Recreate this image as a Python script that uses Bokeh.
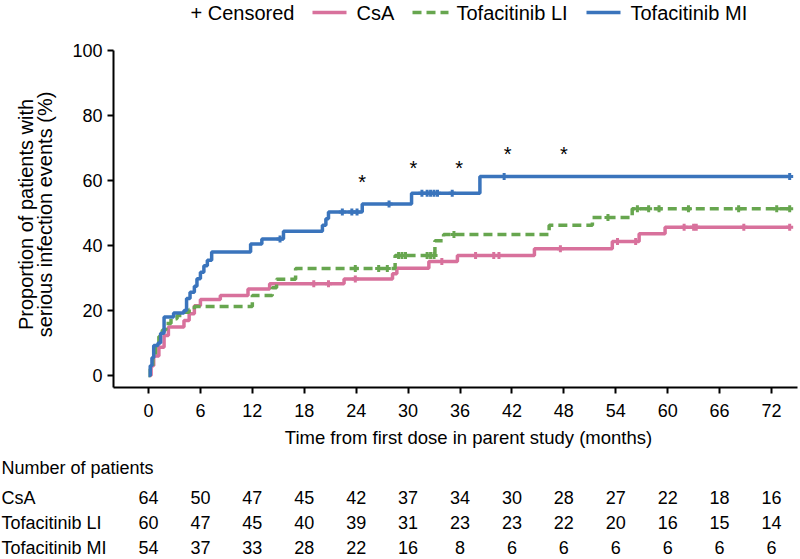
import numpy as np
from bokeh.plotting import figure
from bokeh.models import Range1d, FixedTicker, LinearAxis
from bokeh.embed import file_html
from bokeh.resources import INLINE
from bokeh.core.properties import value

# ---------------- data ----------------
month_ticks = [0, 6, 12, 18, 24, 30, 36, 42, 48, 54, 60, 66, 72]
pct_ticks = [0, 20, 40, 60, 80, 100]
end_time = 74.1

# CsA (cumulative % with serious infection events, step after each time)
csa_t = [0.2, 0.3, 0.6, 1.2, 1.8, 2.3, 4.1, 4.7, 5.3, 6.0, 8.3, 11.5, 14.0,
         22.6, 28.2, 28.7, 32.4, 35.7, 44.6, 53.6, 56.7, 59.7]
csa_p = [0.0, 3.0, 6.0, 8.7, 12.3, 14.9, 16.9, 19.0, 21.5, 23.4, 24.6, 26.6,
         28.2, 29.7, 31.3, 33.0, 35.1, 36.9, 39.0, 41.2, 43.6, 45.6]
csa_cens = [19.1, 20.8, 23.9, 33.9, 37.8, 39.9, 40.5, 47.6, 54.2, 56.3,
            61.9, 63.0, 63.3, 68.8, 74.1]

# Tofacitinib LI
li_t = [0.0, 0.2, 0.5, 0.8, 1.2, 1.6, 2.0, 2.6, 3.3, 4.2, 4.7, 5.3, 12.0,
        14.3, 14.8, 17.0, 28.5, 33.1, 34.1, 46.3, 51.3, 55.9]
li_p = [0.0, 2.0, 6.0, 9.0, 12.0, 14.0, 16.0, 17.5, 18.5, 19.5, 20.3, 21.2,
        24.6, 27.0, 29.6, 32.9, 36.9, 41.5, 43.4, 46.2, 48.6, 51.3]
li_cens = [23.9, 26.6, 27.6, 28.9, 29.3, 29.7, 32.2, 32.6, 33.0, 35.3, 53.1,
           56.5, 57.8, 59.0, 62.4, 68.2, 72.6, 74.1]

# Tofacitinib MI
mi_t = [0.0, 0.2, 0.4, 0.6, 1.1, 1.4, 1.8, 2.9, 4.1, 4.4, 4.8, 5.3, 5.6, 6.0,
        6.4, 6.8, 7.3, 11.8, 13.1, 15.6, 20.1, 20.5, 20.8, 24.7, 30.4, 38.3]
mi_p = [0.0, 3.0, 5.5, 9.2, 10.0, 13.0, 18.0, 19.2, 20.0, 23.7, 25.6, 27.5,
        29.8, 31.8, 33.8, 35.5, 38.0, 40.5, 42.0, 44.4, 46.2, 48.2, 50.3, 52.8,
        56.1, 61.2]
mi_cens = [15.2, 22.4, 23.5, 24.1, 27.8, 31.6, 32.2, 32.6, 33.0, 33.4, 35.1,
           41.1, 74.1]

# significance markers
star_t = [24.7, 30.6, 35.9, 41.5, 48.0]
star_p = [60.0, 64.3, 64.3, 68.6, 68.6]

# number at risk
risk_times = [0, 6, 12, 18, 24, 30, 36, 42, 48, 54, 60, 66, 72]
risk_csa = [64, 50, 47, 45, 42, 37, 34, 30, 28, 27, 22, 18, 16]
risk_li = [60, 47, 45, 40, 39, 31, 23, 23, 22, 20, 16, 15, 14]
risk_mi = [54, 37, 33, 28, 22, 16, 8, 6, 6, 6, 6, 6, 6]

groups = ["CsA", "Tofacitinib LI", "Tofacitinib MI"]
risk_header = "Number of patients"
censor_label = "+ Censored"
x_title = "Time from first dose in parent study (months)"
y_title = ["Proportion of patients with", "serious infection events (%)"]

# ---------------- styling / layout (page pixels) ----------------
FONT = value("Liberation Sans")
COLORS = ["#d8719c", "#67a64f", "#3a74bc"]
DASHES = ["solid", "9 5", "solid"]

W, H = 800, 559
X_ZERO, PXM = 148.0, 8.653     # page x of t=0, px per month
Y_ZERO, PXP = 375.0, 3.25      # page y of 0 %, px per %
AX_LEFT, AX_RIGHT, AX_BOTTOM = 113, 797, 387

X_TITLE_POS = (468, 437)
Y_TITLE_X = [25, 44]
Y_TITLE_Y = 214

LEG_Y = 12
LEG_TEXT_X = [190, 356, 456, 630]          # "+ Censored", CsA, LI, MI labels
LEG_SWATCH = [(312, 346), (412, 448), (586, 620)]

RISK_LABEL_X = 1
RISK_HEADER_Y = 467
RISK_ROW_Y = [497, 522, 547]


def tx(px):
    return (px - X_ZERO) / PXM


def py(px):
    return (Y_ZERO - px) / PXP


p = figure(width=W, height=H, x_range=Range1d(tx(0), tx(W)),
           y_range=Range1d(py(H), py(0)), title=None,
           output_backend="svg", toolbar_location=None, min_border=0,
           x_axis_location=None, y_axis_location=None)
p.outline_line_color = None
p.grid.visible = False
p.background_fill_color = "white"
p.border_fill_color = "white"

xaxis = LinearAxis(ticker=FixedTicker(ticks=month_ticks),
                   fixed_location=py(AX_BOTTOM),
                   bounds=(tx(AX_LEFT), tx(AX_RIGHT)))
yaxis = LinearAxis(ticker=FixedTicker(ticks=pct_ticks),
                   fixed_location=tx(AX_LEFT),
                   bounds=(py(AX_BOTTOM), pct_ticks[-1]))
p.add_layout(xaxis, "below")
p.add_layout(yaxis, "left")

for ax in (xaxis, yaxis):
    ax.axis_line_width = 2
    ax.axis_line_color = "black"
    ax.major_tick_line_width = 2
    ax.major_tick_line_color = "black"
    ax.major_tick_out = 6
    ax.major_tick_in = 0
    ax.minor_tick_line_color = None
    ax.major_label_text_font = "Liberation Sans"
    ax.major_label_text_font_size = "18px"
    ax.major_label_text_color = "black"

xaxis.major_label_standoff = 10
yaxis.major_label_standoff = 5

# axis titles
p.text(x=[tx(X_TITLE_POS[0])], y=[py(X_TITLE_POS[1])], text=[x_title],
       text_align="center", text_baseline="middle", text_font=FONT,
       text_font_size="18.5px", text_color="black")
p.text(x=[tx(x) for x in Y_TITLE_X], y=[py(Y_TITLE_Y)] * 2, text=y_title,
       angle=np.pi / 2, text_align="center", text_baseline="middle",
       text_font=FONT, text_font_size="20px", text_color="black")


def level_at(ts, ps, cts):
    idx = np.searchsorted(np.asarray(ts), np.asarray(cts), side="right") - 1
    idx = np.clip(idx, 0, len(ps) - 1)
    return list(np.asarray(ps)[idx])


curves = [(csa_t, csa_p, csa_cens), (li_t, li_p, li_cens), (mi_t, mi_p, mi_cens)]
for (ts, ps, cs), col, dash in zip(curves, COLORS, DASHES):
    xs = list(ts) + [end_time]
    ys = list(ps) + [ps[-1]]
    p.step(x=xs, y=ys, mode="after", line_color=col, line_width=3.5,
           line_dash=dash)
    p.scatter(x=cs, y=level_at(ts, ps, cs), marker="cross", size=7,
              line_color=col, line_width=3)

p.text(x=star_t, y=star_p, text=["*"] * len(star_t), text_align="center",
       text_baseline="middle", text_font=FONT, text_font_size="20px",
       text_color="black", y_offset=1)

# ---------------- legend (drawn above the plot area) ----------------
p.text(x=[tx(x) for x in LEG_TEXT_X], y=[py(LEG_Y)] * 4,
       text=[censor_label] + groups, text_align="left", text_baseline="middle",
       text_font=FONT, text_font_size="20px", text_color="black")
for (a, b), col, dash in zip(LEG_SWATCH, COLORS, DASHES):
    p.line(x=[tx(a), tx(b)], y=[py(LEG_Y)] * 2, line_color=col,
           line_width=3.5, line_dash=dash)

# ---------------- number-at-risk table ----------------
lx = tx(RISK_LABEL_X)
p.text(x=[lx], y=[py(RISK_HEADER_Y)], text=[risk_header], text_align="left",
       text_baseline="middle", text_font=FONT, text_font_size="18px",
       text_color="black")
for g, counts, yy in zip(groups, [risk_csa, risk_li, risk_mi], RISK_ROW_Y):
    p.text(x=[lx], y=[py(yy)], text=[g], text_align="left",
           text_baseline="middle", text_font=FONT, text_font_size="18px",
           text_color="black")
    p.text(x=risk_times, y=[py(yy)] * len(risk_times),
           text=[str(c) for c in counts], text_align="center",
           text_baseline="middle", text_font=FONT, text_font_size="18px",
           text_color="black")

open("out.html", "w").write(file_html(p, INLINE))
